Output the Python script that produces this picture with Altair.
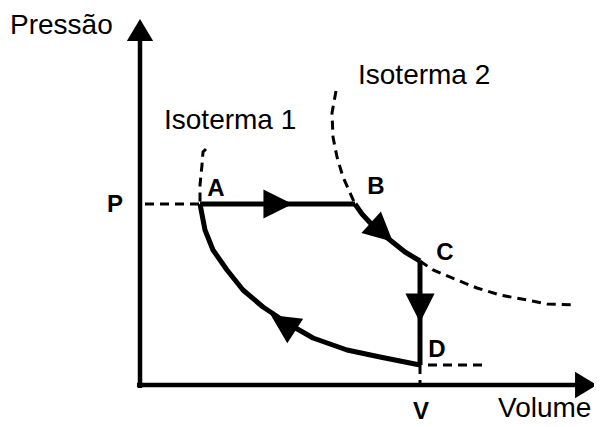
import altair as alt
import pandas as pd

# ---- data (volume v, pressure p), units ----
axis_x_v = [-3, 440]
axis_x_p = [0, 0]
axis_y_v = [0, 0]
axis_y_p = [-3, 350]

iso1_top_v = [66, 63, 62, 60, 60]
iso1_top_p = [236, 233, 220, 200, 181]
iso1_solid_v = [60, 65, 73, 87, 103, 123, 147, 173, 207, 240, 280]
iso1_solid_p = [181, 155, 135, 115, 95, 78, 62, 47, 35, 28, 20]

iso2_top_v = [196, 192, 193, 197, 203, 215]
iso2_top_p = [294, 272, 248, 228, 208, 181]
iso2_solid_v = [215, 222, 235, 250, 265, 280]
iso2_solid_p = [181, 171, 157, 145, 133, 124]
iso2_tail_v = [280, 293, 317, 337, 360, 387, 407, 435]
iso2_tail_p = [124, 115, 105, 97, 90, 85, 81, 80]

ab_v = [60, 215]
ab_p = [181, 181]
cd_v = [280, 280]
cd_p = [124, 20]

p_guide_v = [5, 60]
p_guide_p = [181, 181]
v_guide_v = [280, 280]
v_guide_p = [20, 0]
d_tail_v = [288, 342]
d_tail_p = [20, 20]

arrow_v = [138, 242, 280, 143]
arrow_p = [181, 153, 77, 62]
arrow_ang = [90, 132, 180, 303]

head_v = [0, 446]
head_p = [355, 0]
head_ang = [0, 90]

word_text = ["Pressão", "Isoterma 1", "Isoterma 2", "Volume"]
word_v = [-130, 24, 218, 358]
word_p = [359, 264, 309, -24]

letter_text = ["P", "A", "B", "C", "D", "V"]
letter_v = [-25, 76, 236, 305, 297, 281]
letter_p = [180, 196, 198, 132, 35, -27]


def segs(pairs):
    rows = []
    for name, vs, ps in pairs:
        for i, (v, p) in enumerate(zip(vs, ps)):
            rows.append({"seg": name, "i": i, "v": v, "p": p})
    return pd.DataFrame(rows)


xs = alt.Scale(domain=[-132, 454], nice=False, zero=False)
ys = alt.Scale(domain=[-38, 377], nice=False, zero=False)
X = alt.X("v:Q", scale=xs, axis=None)
Y = alt.Y("p:Q", scale=ys, axis=None)

axes_df = segs([("ax", axis_x_v, axis_x_p), ("ay", axis_y_v, axis_y_p)])
solid_df = segs([("s1", iso1_solid_v, iso1_solid_p), ("s2", iso2_solid_v, iso2_solid_p),
                 ("ab", ab_v, ab_p), ("cd", cd_v, cd_p)])
dash_df = segs([("d1", iso1_top_v, iso1_top_p), ("d2", iso2_top_v, iso2_top_p),
                ("d3", iso2_tail_v, iso2_tail_p), ("pg", p_guide_v, p_guide_p),
                ("vg", v_guide_v, v_guide_p), ("dt", d_tail_v, d_tail_p)])

axes = alt.Chart(axes_df).mark_line(color="black", strokeWidth=4.5).encode(
    x=X, y=Y, detail="seg:N", order="i:Q")
solid = alt.Chart(solid_df).mark_line(color="black", strokeWidth=5, strokeJoin="round").encode(
    x=X, y=Y, detail="seg:N", order="i:Q")
dashed = alt.Chart(dash_df).mark_line(color="black", strokeWidth=3, strokeDash=[9, 6]).encode(
    x=X, y=Y, detail="seg:N", order="i:Q")

tri = "M0,-1L1,1L-1,1Z"
arrows = alt.Chart(pd.DataFrame({"v": arrow_v, "p": arrow_p, "a": arrow_ang})).mark_point(
    shape=tri, filled=True, color="black", opacity=1, size=850, strokeWidth=0).encode(
    x=X, y=Y, angle=alt.Angle("a:Q", scale=None))
heads = alt.Chart(pd.DataFrame({"v": head_v, "p": head_p, "a": head_ang})).mark_point(
    shape="M0,-1L1.2,1L-1.2,1Z", filled=True, color="black", opacity=1, size=480, strokeWidth=0).encode(
    x=X, y=Y, angle=alt.Angle("a:Q", scale=None))

words = alt.Chart(pd.DataFrame({"t": word_text, "v": word_v, "p": word_p})).mark_text(
    font="Liberation Sans", fontSize=28, align="left", baseline="middle", color="black").encode(
    x=X, y=Y, text="t:N")
letters = alt.Chart(pd.DataFrame({"t": letter_text, "v": letter_v, "p": letter_p})).mark_text(
    font="Liberation Sans", fontSize=24, fontWeight="bold", align="center", baseline="middle",
    color="black").encode(x=X, y=Y, text="t:N")

chart = alt.layer(axes, dashed, solid, arrows, heads, words, letters).properties(
    width=586, height=415, padding=0, autosize=alt.AutoSizeParams(type="none"),
    background="white").configure_view(stroke=None)

chart.save("out.html", embed_options={"renderer": "svg", "actions": False})
